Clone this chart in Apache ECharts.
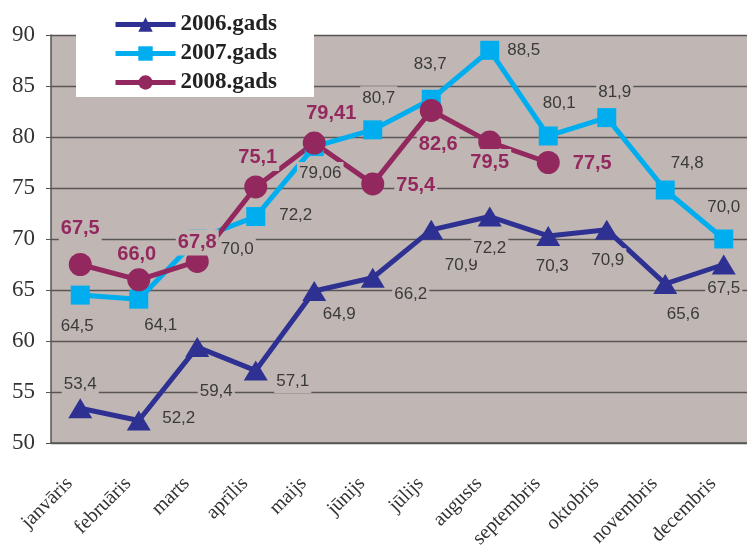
<!DOCTYPE html>
<html><head><meta charset="utf-8">
<script src="https://cdn.jsdelivr.net/npm/echarts@6/dist/echarts.min.js"></script>
<style>html,body{margin:0;padding:0;background:#fff}#c{width:747px;height:545px}</style>
</head><body><div id="c"></div>
<script>
const months = ['janvāris','februāris','marts','aprīlis','maijs','jūnijs','jūlijs','augusts','septembris','oktobris','novembris','decembris'];
const seriesNames = ['2006.gads','2007.gads','2008.gads'];
const values2006 = [53.4, 52.2, 59.4, 57.1, 64.9, 66.2, 70.9, 72.2, 70.3, 70.9, 65.6, 67.5];
const values2007 = [64.5, 64.1, 70.0, 72.2, 79.06, 80.7, 83.7, 88.5, 80.1, 81.9, 74.8, 70.0];
const values2008 = [67.5, 66.0, 67.8, 75.1, 79.41, 75.4, 82.6, 79.5, 77.5];
const labelText2006 = ['53,4','52,2','59,4','57,1','64,9','66,2','70,9','72,2','70,3','70,9','65,6','67,5'];
const labelText2007 = ['64,5','64,1','70,0','72,2','79,06','80,7','83,7','88,5','80,1','81,9','74,8','70,0'];
const labelText2008 = ['67,5','66,0','67,8','75,1','79,41','75,4','82,6','79,5','77,5'];
const yTicks = {min: 50, max: 90, interval: 5};

// label offsets (style only)
const off2006 = [[0,-24],[40,-2],[19,44],[37,11],[25,23],[38,17],[30,35],[0,32],[4,30],[1,30],[18,30],[0,24]];
const off2007 = [[-3,31],[22,26],[40,10],[40,-1],[6,27],[6,-32],[-1,-35],[34,0],[11,-33],[8,-25],[22,-27],[0,-32]];
const off2008 = [[0,-36],[-2,-25],[0,-19],[2,-29],[17,-30],[43,2],[7,34],[0,20],[44,1]];

const BG = '#C0B7B4';
const colors = ['#2E3192', '#00AEEF', '#93285E'];

function build(vals, texts, offs, isBold, color) {
  return vals.map((v, i) => ({
    value: v,
    label: {
      show: true, position: 'inside', offset: offs[i],
      formatter: () => texts[i],
      fontFamily: 'Liberation Sans, Arial, sans-serif',
      fontSize: isBold ? 20 : 17,
      fontWeight: isBold ? 'bold' : 'normal',
      color: color,
      backgroundColor: BG,
      padding: [3, 2]
    }
  }));
}

const chart = echarts.init(document.getElementById('c'), null, {renderer: 'canvas'});
chart.setOption({
  animation: false,
  backgroundColor: '#fff',
  grid: {left: 51, top: 35, width: 702, height: 408, show: true, backgroundColor: BG, borderWidth: 0,
         containLabel: false, outerBoundsMode: 'none'},
  graphic: [{
    type: 'rect', z: 100,
    shape: {x: 76, y: 0, width: 238, height: 97},
    style: {fill: '#fff'}
  }],
  legend: {
    z: 200,
    orient: 'vertical', left: 108, top: 8,
    itemWidth: 60, itemHeight: 18, itemGap: 6,
    lineStyle: {width: 5},
    textStyle: {fontFamily: 'Liberation Serif, Times New Roman, serif', fontWeight: 'bold', fontSize: 23, color: '#222', lineHeight: 23},
    data: seriesNames
  },
  xAxis: {
    type: 'category', data: months, boundaryGap: true,
    axisLine: {lineStyle: {color: '#555', width: 1.5}},
    axisTick: {inside: true, length: 5, lineStyle: {color: '#555'}},
    axisLabel: {rotate: 45, margin: 27, fontFamily: 'Liberation Serif, Times New Roman, serif', fontSize: 20, color: '#333', interval: 0, hideOverlap: false,
                formatter: v => v + '\u00a0\u00a0\u00a0'}
  },
  yAxis: {
    type: 'value', min: yTicks.min, max: yTicks.max, interval: yTicks.interval,
    axisLine: {show: true, lineStyle: {color: '#555', width: 1.5}},
    axisTick: {show: true, length: 5, lineStyle: {color: '#555'}},
    splitLine: {lineStyle: {color: '#5a5555', width: 1.3}},
    axisLabel: {margin: 16, fontFamily: 'Liberation Serif, Times New Roman, serif', fontSize: 23, color: '#333'}
  },
  series: [
    {name: seriesNames[0], type: 'line', data: build(values2006, labelText2006, off2006, false, '#3a3a3a'),
     color: colors[0], lineStyle: {width: 5, color: colors[0]}, symbol: 'triangle', symbolSize: [24, 20],
     itemStyle: {color: colors[0]}, showAllSymbol: true},
    {name: seriesNames[1], type: 'line', data: build(values2007, labelText2007, off2007, false, '#3a3a3a'),
     color: colors[1], lineStyle: {width: 5, color: colors[1]}, symbol: 'rect', symbolSize: 19,
     itemStyle: {color: colors[1]}, showAllSymbol: true},
    {name: seriesNames[2], type: 'line', data: build(values2008, labelText2008, off2008, true, colors[2]),
     color: colors[2], lineStyle: {width: 5, color: colors[2]}, symbol: 'circle', symbolSize: 23,
     itemStyle: {color: colors[2]}, showAllSymbol: true}
  ]
});
</script></body></html>
